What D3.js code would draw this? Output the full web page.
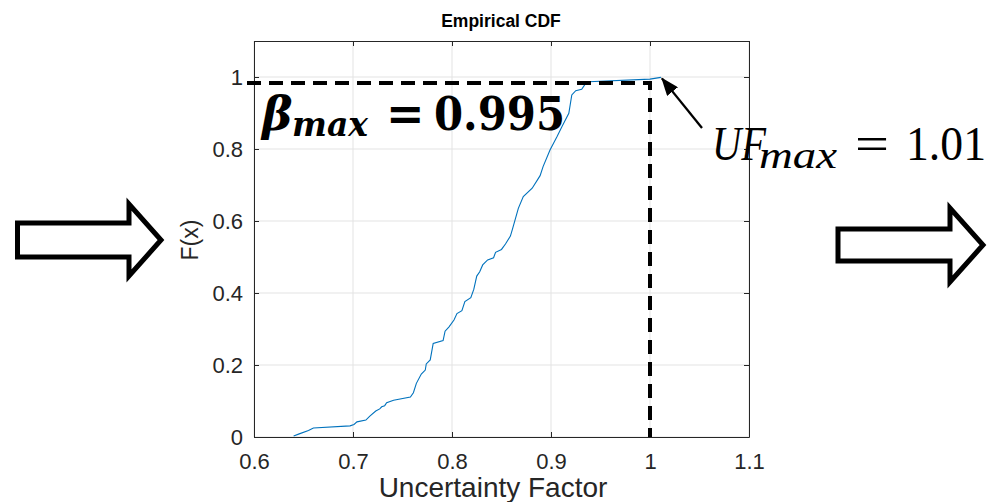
<!DOCTYPE html>
<html>
<head>
<meta charset="utf-8">
<script src="https://cdn.jsdelivr.net/npm/d3@7"></script>
<style>
	body { margin: 0; background: white; }
	svg { display: block; }
	.tick text { font-family: Arial, 'Liberation Sans', sans-serif; font-size: 22px; fill: #262626; }
</style>
</head>
<body>
<div id="chart"></div>
<script>
// empirical cdf
var uf_values = [0.640, 0.645, 0.655, 0.660, 0.697, 0.701, 0.704, 0.713, 0.717, 0.723,
	0.727, 0.729, 0.732, 0.734, 0.741, 0.758, 0.761, 0.764, 0.769, 0.773,
	0.774, 0.778, 0.781, 0.791, 0.793, 0.797, 0.802, 0.805, 0.810, 0.813,
	0.819, 0.822, 0.825, 0.828, 0.831, 0.836, 0.842, 0.844, 0.850, 0.854,
	0.859, 0.861, 0.867, 0.872, 0.881, 0.889, 0.892, 0.899, 0.906, 0.911,
	0.918, 0.921, 0.925, 0.931, 0.934, 0.938, 1.000, 1.011];
var f_values = [0.003, 0.008, 0.018, 0.025, 0.031, 0.035, 0.042, 0.047, 0.058, 0.072,
	0.078, 0.084, 0.087, 0.095, 0.102, 0.111, 0.123, 0.149, 0.175, 0.186,
	0.203, 0.214, 0.260, 0.268, 0.294, 0.306, 0.325, 0.343, 0.351, 0.376,
	0.387, 0.410, 0.447, 0.459, 0.478, 0.492, 0.498, 0.513, 0.521, 0.536,
	0.558, 0.577, 0.635, 0.668, 0.691, 0.726, 0.751, 0.797, 0.834, 0.862,
	0.899, 0.950, 0.962, 0.966, 0.978, 0.987, 0.994, 0.999];

var x_ticks = [0.6, 0.7, 0.8, 0.9, 1.0, 1.1];
var y_ticks = [0, 0.2, 0.4, 0.6, 0.8, 1];
var beta_level = 0.983;   // where the dashed line is drawn
var uf_max = 1.0;

var margin = {top: 41, right: 242, bottom: 65, left: 254};
var width = 991 - margin.left - margin.right;
var height = 502 - margin.top - margin.bottom;

var svg = d3.select('#chart')
	.append('svg')
		.attr('width', 991)
		.attr('height', 502);

svg.append('defs')
	.append('marker')
		.attr('id', 'head')
		.attr('viewBox', '0 0 18 14')
		.attr('refX', 17)
		.attr('refY', 7)
		.attr('markerWidth', 18)
		.attr('markerHeight', 14)
		.attr('markerUnits', 'userSpaceOnUse')
		.attr('orient', 'auto')
	.append('path')
		.attr('d', 'M0,0 L18,7 L0,14 z')
		.style('fill', 'black');

// block arrows either side
var block_arrow = function(x0, x1, x2, ym, half_shaft, half_head) {
	return 'M' + x0 + ',' + (ym - half_shaft) + ' L' + x1 + ',' + (ym - half_shaft)
		+ ' L' + x1 + ',' + (ym - half_head) + ' L' + x2 + ',' + ym
		+ ' L' + x1 + ',' + (ym + half_head) + ' L' + x1 + ',' + (ym + half_shaft)
		+ ' L' + x0 + ',' + (ym + half_shaft) + ' Z';
};
svg.append('path')
	.attr('d', block_arrow(17.5, 129, 161, 240, 17, 36))
	.style('fill', 'white')
	.style('stroke', 'black')
	.style('stroke-width', 5)
	.style('stroke-linejoin', 'miter');
svg.append('path')
	.attr('d', block_arrow(838, 950, 983, 245, 16, 37))
	.style('fill', 'white')
	.style('stroke', 'black')
	.style('stroke-width', 5)
	.style('stroke-linejoin', 'miter');

// title
svg.append('text')
	.attr('text-anchor', 'middle')
	.attr('x', 501)
	.attr('y', 27)
	.text('Empirical CDF')
	.style('font-family', 'Arial, Liberation Sans, sans-serif')
	.style('font-weight', 'bold')
	.style('font-size', '17.5px')
	.style('fill', 'black');

// x-axis label
svg.append('text')
	.attr('text-anchor', 'middle')
	.attr('x', 493)
	.attr('y', 497)
	.text('Uncertainty Factor')
	.style('font-family', 'Arial, Liberation Sans, sans-serif')
	.style('font-size', '28px')
	.style('fill', '#262626');

// y-axis label
svg.append('text')
	.attr('text-anchor', 'middle')
	.attr('transform', 'translate(198,240) rotate(-90)')
	.text('F(x)')
	.style('font-family', 'Arial, Liberation Sans, sans-serif')
	.style('font-size', '23px')
	.style('fill', '#262626');

var g = svg.append('g')
	.attr('transform', 'translate(' + margin.left + ',' + margin.top + ')');

var x = d3.scaleLinear()
	.domain([0.6, 1.1])
	.range([0, width]);
var y = d3.scaleLinear()
	.domain([0, 1.1])
	.range([height, 0]);

// grid
g.append('g')
	.selectAll('line')
	.data(x_ticks)
	.enter()
	.append('line')
		.attr('x1', function(d) { return x(d); })
		.attr('x2', function(d) { return x(d); })
		.attr('y1', 0)
		.attr('y2', height)
		.style('stroke', '#e3e3e3')
		.style('stroke-width', 1);
g.append('g')
	.selectAll('line')
	.data(y_ticks)
	.enter()
	.append('line')
		.attr('x1', 0)
		.attr('x2', width)
		.attr('y1', function(d) { return y(d); })
		.attr('y2', function(d) { return y(d); })
		.style('stroke', '#e3e3e3')
		.style('stroke-width', 1);

// axes, ticks inward like matlab
var fmt = function(d) { return d3.format('~g')(d); };
g.append('g')
	.attr('transform', 'translate(0,' + height + ')')
	.call(d3.axisBottom(x).tickValues(x_ticks).tickFormat(fmt).tickSizeInner(-5).tickSizeOuter(0).tickPadding(16));
g.append('g')
	.call(d3.axisTop(x).tickValues(x_ticks).tickFormat('').tickSizeInner(-5).tickSizeOuter(0));
g.append('g')
	.call(d3.axisLeft(y).tickValues(y_ticks).tickFormat(fmt).tickSizeInner(-5).tickSizeOuter(0).tickPadding(11));
g.append('g')
	.attr('transform', 'translate(' + width + ',0)')
	.call(d3.axisRight(y).tickValues(y_ticks).tickFormat('').tickSizeInner(-5).tickSizeOuter(0));
g.selectAll('.domain, .tick line')
	.style('stroke', '#262626')
	.style('stroke-width', 1);

// curve
var pts = uf_values.map(function(v, i) { return [v, f_values[i]]; });
g.append('path')
	.datum(pts)
	.attr('d', d3.line()
		.x(function(d) { return x(d[0]); })
		.y(function(d) { return y(d[1]); }))
	.style('fill', 'none')
	.style('stroke', '#0072BD')
	.style('stroke-width', 1.1);

// dashed guides
g.append('path')
	.attr('d', 'M' + (-7) + ',' + y(beta_level) + ' L' + x(uf_max) + ',' + y(beta_level) + ' L' + x(uf_max) + ',' + height)
	.style('fill', 'none')
	.style('stroke', 'black')
	.style('stroke-width', 4)
	.style('stroke-dasharray', '14,8');

// pointer arrow
g.append('line')
	.attr('x1', 448)
	.attr('y1', 87)
	.attr('x2', x(1.011) + 1)
	.attr('y2', y(0.999) + 1)
	.attr('marker-end', 'url(#head)')
	.style('stroke', 'black')
	.style('stroke-width', 2.3);

// annotations
var beta = svg.append('g')
	.style('font-family', 'DejaVu Serif, Liberation Serif, serif')
	.style('font-weight', 'bold')
	.style('fill', 'black');
beta.append('text').attr('x', 262).attr('y', 130)
	.text('β').style('font-style', 'italic').style('font-size', '46px');
beta.append('text').attr('x', 292).attr('y', 136)
	.attr('textLength', 76).attr('lengthAdjust', 'spacingAndGlyphs')
	.text('max').style('font-style', 'italic').style('font-size', '34px');
beta.append('text').attr('x', 386).attr('y', 130)
	.text('=').style('font-size', '46px');
beta.append('text').attr('x', 434).attr('y', 130)
	.attr('textLength', 131).attr('lengthAdjust', 'spacingAndGlyphs')
	.text('0.995').style('font-size', '46px');

var uf = svg.append('g')
	.style('font-family', 'Liberation Serif, DejaVu Serif, serif')
	.style('fill', 'black');
uf.append('text').attr('x', 712).attr('y', 160)
	.attr('textLength', 54).attr('lengthAdjust', 'spacingAndGlyphs')
	.text('UF').style('font-style', 'italic').style('font-size', '48px');
uf.append('text').attr('x', 759).attr('y', 168)
	.attr('textLength', 78).attr('lengthAdjust', 'spacingAndGlyphs')
	.text('max').style('font-style', 'italic').style('font-size', '38px');
uf.append('text').attr('x', 855).attr('y', 160)
	.attr('textLength', 34).attr('lengthAdjust', 'spacingAndGlyphs')
	.text('=').style('font-size', '48px');
uf.append('text').attr('x', 906).attr('y', 160)
	.attr('textLength', 80).attr('lengthAdjust', 'spacingAndGlyphs')
	.text('1.01').style('font-size', '48px');
</script>
</body>
</html>
